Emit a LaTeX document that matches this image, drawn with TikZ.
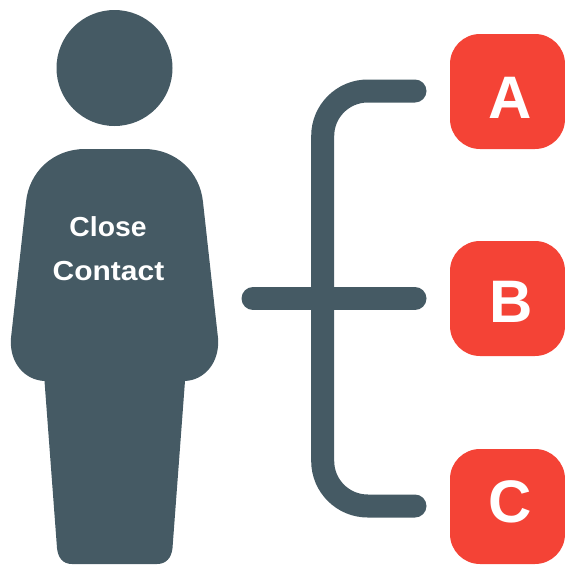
\documentclass[tikz,border=0pt]{standalone}
\usepackage{fontspec}
\setmainfont{Liberation Sans}
\definecolor{slate}{HTML}{455A64}
\definecolor{redbox}{HTML}{F44336}
\tikzset{
  badge/.style={fill=redbox,rounded corners=30pt,minimum size=115pt,inner sep=0pt},
  letter/.style={text=white,font=\fontsize{60}{60}\selectfont\bfseries,inner sep=0pt},
  bodytext/.style={text=white,font=\fontsize{27.5}{27.5}\selectfont\bfseries,inner sep=0pt},
  bracket/.style={draw=slate,line width=23pt,line cap=round}
}
\begin{document}
\begin{tikzpicture}[x=1pt,y=-1pt]
\useasboundingbox (0,0) rectangle (565,566);
% person
\fill[slate] (114.5,68) circle (58);
\fill[slate] (85,149) -- (144,149)
  .. controls (176,149) and (200,172) .. (203,202)
  -- (218,338)
  .. controls (220,362) and (205,380) .. (185,381)
  -- (172.5,548)
  .. controls (171.5,558) and (166,564) .. (157,564)
  -- (72,564)
  .. controls (63,564) and (58,558) .. (57,548)
  -- (44.5,381)
  .. controls (24,380) and (9,362) .. (11,338)
  -- (26,202)
  .. controls (29,172) and (53,149) .. (85,149) -- cycle;
\node[bodytext,xscale=1.03] (close) at (108,226.5) {Close};
\node[bodytext,xscale=1.09] (contact) at (108.5,271.5) {Contact};
% badges
\node[badge] (boxA) at (507.5,91.5) {};
\node[badge] (boxB) at (507.5,298.5) {};
\node[badge] (boxC) at (507.5,506.5) {};
\node[letter] (A) at (510.5,97.5) {A};
\node[letter] (B) at (511,301.5) {B};
\node[letter] (C) at (510.5,501.5) {C};
% bracket
\coordinate (topend) at (415,91);
\coordinate (midend) at (415,298.5);
\coordinate (botend) at (415,506);
\coordinate (midstart) at (253,298.5);
\draw[bracket,rounded corners=45pt] (topend) -- (322.7,91) -- (322.7,506) -- (botend);
\draw[bracket] (midstart) -- (midend);
\end{tikzpicture}
\end{document}
